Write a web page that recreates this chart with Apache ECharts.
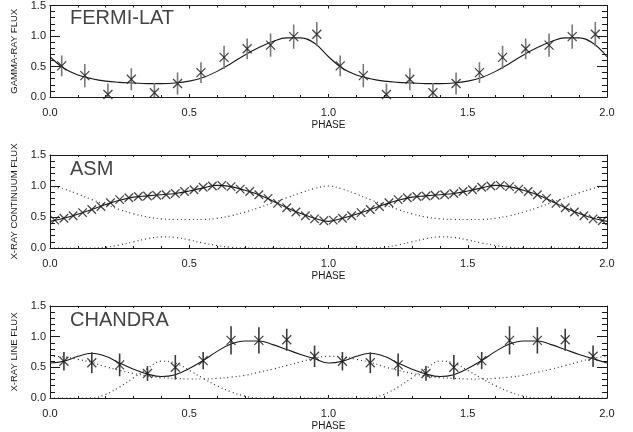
<!DOCTYPE html>
<html>
<head>
<meta charset="utf-8">
<script src="https://cdn.jsdelivr.net/npm/echarts@6/dist/echarts.min.js"></script>
<style>
html,body{margin:0;padding:0;background:#fff;}
#c{width:633px;height:432px;}
</style>
</head>
<body>
<div id="c"></div>
<script>
// ---------- data (one phase cycle; the figure repeats it twice) ----------
const cycles = [0, 1];
const curvePhase = [0,0.05,0.1,0.15,0.2,0.25,0.3,0.35,0.4,0.45,0.5,0.55,0.6,0.65,0.7,0.75,0.8,0.85,0.9,0.95,1.0];

// FERMI-LAT
const fermiPhase = [0.042,0.125,0.208,0.292,0.375,0.458,0.542,0.625,0.708,0.792,0.875,0.958];
const fermiFlux  = [0.51,0.35,0.04,0.29,0.07,0.22,0.40,0.65,0.79,0.85,0.99,1.03];
const fermiErr   = [0.17,0.19,0.18,0.18,0.16,0.18,0.17,0.19,0.17,0.19,0.20,0.20];
const fermiModel = [0.66,0.47,0.36,0.30,0.26,0.24,0.23,0.22,0.22,0.23,0.26,0.32,0.42,0.55,0.69,0.81,0.91,0.97,0.97,0.88,0.66];

// ASM
const asmPhase = [0.017,0.05,0.083,0.117,0.15,0.183,0.217,0.25,0.283,0.317,0.35,0.383,0.417,0.45,0.483,0.517,0.55,0.583,0.617,0.65,0.683,0.717,0.75,0.783,0.817,0.85,0.883,0.917,0.95,0.983];
const asmFlux  = [0.45,0.48,0.52,0.57,0.62,0.67,0.73,0.78,0.81,0.83,0.84,0.85,0.86,0.88,0.91,0.94,0.98,1.00,1.01,0.99,0.95,0.91,0.86,0.80,0.72,0.65,0.58,0.52,0.47,0.44];
const asmModel = [0.43,0.48,0.545,0.62,0.70,0.77,0.82,0.84,0.86,0.88,0.92,0.97,1.01,0.99,0.93,0.86,0.76,0.65,0.555,0.48,0.43];
const asmCompA = [1.00,0.95,0.87,0.78,0.70,0.62,0.55,0.50,0.47,0.46,0.46,0.46,0.48,0.52,0.58,0.65,0.73,0.81,0.89,0.96,1.00];
const asmCompB = [0,0,0,0,0.01,0.05,0.10,0.15,0.18,0.17,0.13,0.08,0.04,0.01,0,0,0,0,0,0,0];

// CHANDRA
const chaPhase = [0.05,0.15,0.25,0.35,0.45,0.55,0.65,0.75,0.85,0.95];
const chaFlux  = [0.60,0.575,0.54,0.40,0.50,0.61,0.94,0.94,0.95,0.68];
const chaErr   = [0.15,0.17,0.185,0.12,0.20,0.14,0.23,0.215,0.18,0.175];
const chaModel = [0.57,0.60,0.68,0.73,0.68,0.57,0.47,0.39,0.35,0.38,0.48,0.61,0.76,0.88,0.93,0.93,0.87,0.79,0.71,0.64,0.57];
const chaCompA = [0.68,0.67,0.63,0.58,0.51,0.45,0.40,0.36,0.33,0.32,0.31,0.31,0.32,0.34,0.37,0.42,0.47,0.53,0.59,0.65,0.68];
const chaCompB = [0,0,0,0,0.06,0.18,0.33,0.48,0.60,0.57,0.45,0.32,0.20,0.10,0.03,0,0,0,0,0,0];

// tick / text labels
const xTicks = ['0.0','0.5','1.0','1.5','2.0'];
const yTicks = ['0.0','0.5','1.0','1.5'];
const panelTitles = ['FERMI-LAT','ASM','CHANDRA'];
const yNames = ['GAMMA-RAY FLUX','X-RAY CONTINUUM FLUX','X-RAY LINE FLUX'];
const xName = 'PHASE';

// ---------- helpers ----------
function fold(ph, vals){
  const out = [];
  cycles.forEach(c => ph.forEach((p,i) => out.push([p + c, vals[i]])));
  return out;
}
function foldErr(ph, vals, errs){
  const out = [];
  cycles.forEach(c => ph.forEach((p,i) => out.push([p + c, vals[i]-errs[i], vals[i]+errs[i]])));
  return out;
}
const FONT = 'Liberation Sans, Arial, sans-serif';
const INK = '#1a1a1a';

const grids = [
  {left:50, width:557, top:5, height:92},
  {left:50, width:557, top:155, height:93},
  {left:50, width:557, top:306, height:93}
];

const xAxes = [], yAxes = [];
grids.forEach((g, i) => {
  const base = {
    gridIndex:i, type:'value', min:0, max:2, interval:0.5,
    axisLine:{show:true, onZero:false, lineStyle:{color:INK, width:1}},
    axisTick:{show:true, inside:true, length:3, lineStyle:{color:INK}},
    minorTick:{show:true, splitNumber:5, length:2, lineStyle:{color:INK}},
    splitLine:{show:false}
  };
  xAxes.push(Object.assign({}, base, {
    position:'bottom',
    name: xName, nameLocation:'middle', nameGap:23,
    nameTextStyle:{fontFamily:FONT, fontSize:10, color:INK},
    axisLabel:{show:true, margin:10, fontFamily:FONT, fontSize:11, color:INK,
      formatter: v => xTicks[Math.round(v/0.5)]}
  }));
  xAxes.push(Object.assign({}, base, {position:'top', axisLabel:{show:false}}));
  const ybase = {
    gridIndex:i, type:'value', min:0, max:1.5, interval:0.5,
    axisLine:{show:true, onZero:false, lineStyle:{color:INK, width:1}},
    axisTick:{show:true, inside:true, length:10, lineStyle:{color:INK}},
    minorTick:{show:true, splitNumber:5, length:5, lineStyle:{color:INK}},
    splitLine:{show:false}
  };
  yAxes.push(Object.assign({}, ybase, {
    position:'left',
    name: yNames[i], nameLocation:'middle', nameGap:21, nameRotate:90,
    nameTextStyle:{fontFamily:FONT, fontSize:9.5, color:INK},
    axisLabel:{show:true, margin:4, fontFamily:FONT, fontSize:11, color:INK,
      formatter: v => yTicks[Math.round(v/0.5)]}
  }));
  yAxes.push(Object.assign({}, ybase, {position:'right', axisLabel:{show:false}}));
});

const XPATH = 'path://M0,0L10,10M10,0L0,10';

function lineS(ax, data, dotted){
  return {type:'line', xAxisIndex:ax*2, yAxisIndex:ax*2, data:data, smooth:0.4,
    showSymbol:false, symbol:'none', silent:true, clip:true,
    lineStyle:{color: dotted ? '#333' : INK, width: dotted ? 1.2 : 1.1, type: dotted ? [1,3] : 'solid'},
    z: dotted ? 2 : 3};
}
function markS(ax, data, size){
  return {type:'scatter', xAxisIndex:ax*2, yAxisIndex:ax*2, data:data, symbol:XPATH, symbolSize:size,
    itemStyle:{color:'none', borderColor:INK, borderWidth:1.3}, silent:true, z:5};
}
function errS(ax, data, color){
  return {type:'custom', xAxisIndex:ax*2, yAxisIndex:ax*2, data:data, clip:true, silent:true, z:4,
    encode:{x:0, y:[1,2]},
    renderItem:(params, api) => {
      const a = api.coord([api.value(0), api.value(1)]);
      const b = api.coord([api.value(0), api.value(2)]);
      return {type:'line', shape:{x1:a[0], y1:a[1], x2:b[0], y2:b[1]}, style:{stroke:color, lineWidth:1.6}};
    }};
}

const series = [
  // FERMI
  errS(0, foldErr(fermiPhase, fermiFlux, fermiErr), '#7a7a7a'),
  lineS(0, fold(curvePhase, fermiModel), false),
  markS(0, fold(fermiPhase, fermiFlux), 9),
  // ASM
  lineS(1, fold(curvePhase, asmCompA), true),
  lineS(1, fold(curvePhase, asmCompB), true),
  lineS(1, fold(curvePhase, asmModel), false),
  markS(1, fold(asmPhase, asmFlux), 8.5),
  // CHANDRA
  lineS(2, fold(curvePhase, chaCompA), true),
  lineS(2, fold(curvePhase, chaCompB), true),
  errS(2, foldErr(chaPhase, chaFlux, chaErr), '#3a3a3a'),
  lineS(2, fold(curvePhase, chaModel), false),
  markS(2, fold(chaPhase, chaFlux), 9)
];

const titleTops = [8, 159, 310];
const titles = panelTitles.map((t, i) => ({
  text: t, left: 70, top: titleTops[i], padding: 0,
  textStyle:{fontFamily:FONT, fontSize:20, fontWeight:'normal', color:'#444', lineHeight:20}
}));

const chart = echarts.init(document.getElementById('c'), null, {renderer:'canvas'});
chart.setOption({
  animation:false,
  backgroundColor:'#fff',
  title: titles,
  grid: grids,
  xAxis: xAxes,
  yAxis: yAxes,
  series: series
});
</script>
</body>
</html>
